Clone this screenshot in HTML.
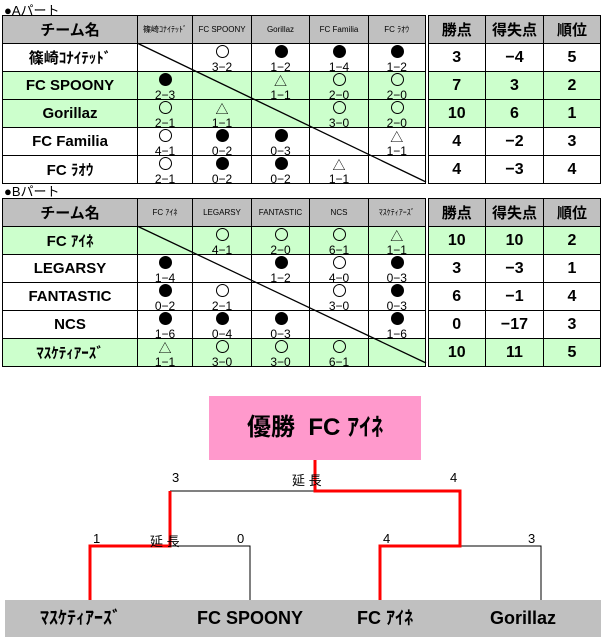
<!DOCTYPE html>
<html><head><meta charset="utf-8"><style>
body{margin:0;width:602px;height:637px;background:#fff;position:relative;overflow:hidden;font-family:"Liberation Sans Narrow","Liberation Sans","Noto Sans CJK JP",sans-serif;}
.lbl{position:absolute;font-size:13px;left:4px;font-family:"Liberation Sans","Noto Sans CJK JP",sans-serif;}
table{position:absolute;left:2px;border-collapse:collapse;table-layout:fixed;}
td{border:1px solid #000;padding:0;text-align:center;vertical-align:middle;overflow:hidden;white-space:nowrap;}
tr.h td{background:#c0c0c0;height:27px;font-size:8px;}
tr.h td.n{font-size:15px;}
tr.h td.b{font-size:15px;font-weight:bold;}
tr.r td{height:27px;}
tr.g td{background:#ccffcc;}
td.n{font-size:15px;font-weight:bold;}
td.v{font-size:16px;font-weight:bold;}
td.d{border-left:4px double #000;}
.m{position:relative;height:27px;}
.m i{position:absolute;left:50%;top:1px;width:11px;height:11px;margin-left:-6px;border:1px solid #000;border-radius:50%;box-sizing:content-box;}
.m i.w{background:#000;}
.m i.t{border:none;border-radius:0;width:0;height:0;top:2px;margin-left:-6px;}
.m b{position:absolute;left:0;right:0;bottom:-3px;font-size:12px;font-weight:normal;}
.t{font-size:13px;position:absolute;left:50%;top:-1px;transform:translateX(-50%);font-style:normal;}
svg{position:absolute;left:0;top:0;}
.bt{position:absolute;font-size:13px;font-family:"Liberation Sans","Noto Sans CJK JP",sans-serif;}
</style></head><body>
<div class="lbl" style="top:0px">●Aパート</div>
<table style="top:15px">
<colgroup><col style="width:135px"><col style="width:55px"><col style="width:59px"><col style="width:58px"><col style="width:59px"><col style="width:58px"><col style="width:59px"><col style="width:58px"><col style="width:57px"></colgroup>
<tr class="h"><td class="n">チーム名</td><td>篠崎ｺﾅｲﾃｯﾄﾞ</td><td>FC SPOONY</td><td>Gorillaz</td><td>FC Familia</td><td>FC ﾗｵｳ</td><td class="b d">勝点</td><td class="b">得失点</td><td class="b">順位</td></tr>
<tr class="r"><td class="n">篠崎ｺﾅｲﾃｯﾄﾞ</td><td></td><td><div class="m"><i></i><b>3−2</b></div></td><td><div class="m"><i class="w"></i><b>1−2</b></div></td><td><div class="m"><i class="w"></i><b>1−4</b></div></td><td><div class="m"><i class="w"></i><b>1−2</b></div></td><td class="v d">3</td><td class="v">−4</td><td class="v">5</td></tr>
<tr class="r g"><td class="n">FC SPOONY</td><td><div class="m"><i class="w"></i><b>2−3</b></div></td><td></td><td><div class="m"><span class="t">△</span><b>1−1</b></div></td><td><div class="m"><i></i><b>2−0</b></div></td><td><div class="m"><i></i><b>2−0</b></div></td><td class="v d">7</td><td class="v">3</td><td class="v">2</td></tr>
<tr class="r g"><td class="n">Gorillaz</td><td><div class="m"><i></i><b>2−1</b></div></td><td><div class="m"><span class="t">△</span><b>1−1</b></div></td><td></td><td><div class="m"><i></i><b>3−0</b></div></td><td><div class="m"><i></i><b>2−0</b></div></td><td class="v d">10</td><td class="v">6</td><td class="v">1</td></tr>
<tr class="r"><td class="n">FC Familia</td><td><div class="m"><i></i><b>4−1</b></div></td><td><div class="m"><i class="w"></i><b>0−2</b></div></td><td><div class="m"><i class="w"></i><b>0−3</b></div></td><td></td><td><div class="m"><span class="t">△</span><b>1−1</b></div></td><td class="v d">4</td><td class="v">−2</td><td class="v">3</td></tr>
<tr class="r"><td class="n">FC ﾗｵｳ</td><td><div class="m"><i></i><b>2−1</b></div></td><td><div class="m"><i class="w"></i><b>0−2</b></div></td><td><div class="m"><i class="w"></i><b>0−2</b></div></td><td><div class="m"><span class="t">△</span><b>1−1</b></div></td><td></td><td class="v d">4</td><td class="v">−3</td><td class="v">4</td></tr>
</table>
<div class="lbl" style="top:181px">●Bパート</div>
<table style="top:198px">
<colgroup><col style="width:135px"><col style="width:55px"><col style="width:59px"><col style="width:58px"><col style="width:59px"><col style="width:58px"><col style="width:59px"><col style="width:58px"><col style="width:57px"></colgroup>
<tr class="h"><td class="n">チーム名</td><td>FC ｱｲﾈ</td><td>LEGARSY</td><td>FANTASTIC</td><td>NCS</td><td>ﾏｽｹﾃｨｱｰｽﾞ</td><td class="b d">勝点</td><td class="b">得失点</td><td class="b">順位</td></tr>
<tr class="r g"><td class="n">FC ｱｲﾈ</td><td></td><td><div class="m"><i></i><b>4−1</b></div></td><td><div class="m"><i></i><b>2−0</b></div></td><td><div class="m"><i></i><b>6−1</b></div></td><td><div class="m"><span class="t">△</span><b>1−1</b></div></td><td class="v d">10</td><td class="v">10</td><td class="v">2</td></tr>
<tr class="r"><td class="n">LEGARSY</td><td><div class="m"><i class="w"></i><b>1−4</b></div></td><td></td><td><div class="m"><i class="w"></i><b>1−2</b></div></td><td><div class="m"><i></i><b>4−0</b></div></td><td><div class="m"><i class="w"></i><b>0−3</b></div></td><td class="v d">3</td><td class="v">−3</td><td class="v">1</td></tr>
<tr class="r"><td class="n">FANTASTIC</td><td><div class="m"><i class="w"></i><b>0−2</b></div></td><td><div class="m"><i></i><b>2−1</b></div></td><td></td><td><div class="m"><i></i><b>3−0</b></div></td><td><div class="m"><i class="w"></i><b>0−3</b></div></td><td class="v d">6</td><td class="v">−1</td><td class="v">4</td></tr>
<tr class="r"><td class="n">NCS</td><td><div class="m"><i class="w"></i><b>1−6</b></div></td><td><div class="m"><i class="w"></i><b>0−4</b></div></td><td><div class="m"><i class="w"></i><b>0−3</b></div></td><td></td><td><div class="m"><i class="w"></i><b>1−6</b></div></td><td class="v d">0</td><td class="v">−17</td><td class="v">3</td></tr>
<tr class="r g"><td class="n">ﾏｽｹﾃｨｱｰｽﾞ</td><td><div class="m"><span class="t">△</span><b>1−1</b></div></td><td><div class="m"><i></i><b>3−0</b></div></td><td><div class="m"><i></i><b>3−0</b></div></td><td><div class="m"><i></i><b>6−1</b></div></td><td></td><td class="v d">10</td><td class="v">11</td><td class="v">5</td></tr>
</table>
<svg width="602" height="637">
<line x1="137" y1="43" x2="426" y2="182" stroke="#000" stroke-width="1.3"/>
<line x1="137" y1="226" x2="426" y2="363" stroke="#000" stroke-width="1.3"/>
<rect x="209" y="396" width="212" height="64" fill="#ff99cc"/>
<rect x="5" y="600" width="596" height="37" fill="#c0c0c0"/>
<g stroke="#000" stroke-width="1" fill="none">
<polyline points="170,491 315,491"/>
<polyline points="170,546 250,546 250,600"/>
<polyline points="460,546 541,546 541,600"/>
</g>
<g stroke="#f00" stroke-width="3" fill="none">
<polyline points="315,460 315,491 460,491 460,546 380,546 380,600"/>
<polyline points="170,491 170,546 90,546 90,600"/>
</g>
</svg>
<div style="position:absolute;left:209px;top:396px;width:212px;height:64px;line-height:64px;text-align:center;font-size:24px;font-weight:bold;">優勝&nbsp; FC ｱｲﾈ</div>
<div class="bt" style="left:172px;top:470px">3</div>
<div class="bt" style="left:292px;top:470px">延 長</div>
<div class="bt" style="left:450px;top:470px">4</div>
<div class="bt" style="left:93px;top:531px">1</div>
<div class="bt" style="left:150px;top:531px">延 長</div>
<div class="bt" style="left:237px;top:531px">0</div>
<div class="bt" style="left:383px;top:531px">4</div>
<div class="bt" style="left:528px;top:531px">3</div>
<div style="position:absolute;top:600px;height:37px;line-height:37px;font-size:18px;font-weight:bold;left:5px;width:596px;">
<span style="position:absolute;left:35px">ﾏｽｹﾃｨｱｰｽﾞ</span>
<span style="position:absolute;left:192px">FC SPOONY</span>
<span style="position:absolute;left:352px">FC ｱｲﾈ</span>
<span style="position:absolute;left:485px">Gorillaz</span>
</div>
</body></html>
